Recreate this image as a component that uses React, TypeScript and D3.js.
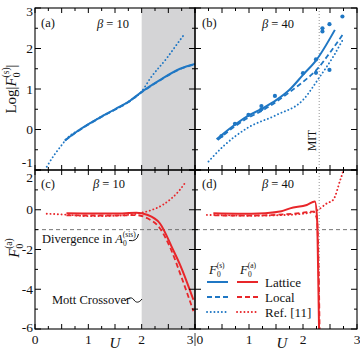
import React from "react";
import * as d3 from "d3";

// ---------- data ----------
// Panel (a) beta=10, Log|F0(s)|
const aLatticeU = [0.56, 0.84, 1.22, 1.5, 1.78, 2.0, 2.34, 2.72, 3.0];
const aLattice = [-0.27, 0.0, 0.3, 0.5, 0.71, 0.93, 1.22, 1.5, 1.62];
const aLocalU = [0.56, 0.84, 1.22, 1.5, 1.78, 2.0, 2.34, 2.72, 3.0];
const aLocal = [-0.27, -0.01, 0.29, 0.49, 0.7, 0.92, 1.21, 1.49, 1.61];
const aRefU = [0.22, 0.35, 0.48, 0.6, 0.84, 1.22, 1.78, 2.0, 2.16, 2.47, 2.72, 2.8];
const aRef = [-0.92, -0.65, -0.42, -0.22, 0.0, 0.3, 0.71, 0.94, 1.26, 1.76, 2.21, 2.35];
// Panel (b) beta=40
const bLatticeU = [0.4, 0.7, 0.96, 1.25, 1.51, 1.75, 2.0, 2.25, 2.59];
const bLattice = [-0.24, 0.08, 0.32, 0.52, 0.73, 0.98, 1.35, 1.72, 2.46];
const bLocalU = [0.42, 0.7, 0.96, 1.25, 1.5, 1.75, 2.04, 2.25, 2.5, 2.75];
const bLocal = [-0.26, 0.04, 0.27, 0.47, 0.68, 0.92, 1.22, 1.47, 1.9, 2.37];
const bRefU = [0.25, 0.52, 0.96, 1.51, 2.0, 2.31, 2.56, 2.75];
const bRef = [-0.79, -0.42, 0.03, 0.36, 0.73, 1.3, 1.8, 2.25];
const bMarkU = [0.49, 0.74, 0.99, 1.23, 1.23, 1.48, 2.0, 2.24, 2.24, 2.36, 2.36, 2.49, 2.49, 2.73];
const bMark = [-0.16, 0.14, 0.36, 0.58, 0.5, 0.83, 1.39, 1.73, 1.4, 2.5, 2.42, 2.6, 1.47, 2.79];
// Panel (c) beta=10, F0(a)
const cLatticeU = [0.59, 1.0, 1.5, 1.9, 2.1, 2.34, 2.59, 2.72, 2.97];
const cLattice = [-0.18, -0.19, -0.19, -0.15, -0.25, -0.68, -2.02, -2.77, -4.53];
const cLocalU = [0.59, 1.0, 1.5, 1.9, 2.1, 2.34, 2.55, 2.72, 2.97];
const cLocal = [-0.28, -0.29, -0.29, -0.27, -0.42, -0.93, -2.0, -3.2, -5.1];
const cRefU = [0.22, 0.6, 1.0, 1.5, 2.0, 2.2, 2.4, 2.55, 2.7, 2.8];
const cRef = [-0.2, -0.25, -0.32, -0.3, -0.15, 0.0, 0.25, 0.55, 0.95, 1.3];
// Panel (d) beta=40
const dLatticeU = [0.34, 0.8, 1.3, 1.6, 1.76, 2.07, 2.22, 2.26, 2.28, 2.3];
const dLattice = [-0.18, -0.2, -0.17, -0.08, 0.07, 0.24, 0.41, -0.4, -3.0, -6.5];
const dLocalU = [0.36, 0.8, 1.3, 1.7, 2.0, 2.19, 2.26, 2.29, 2.31];
const dLocal = [-0.28, -0.3, -0.28, -0.22, -0.15, -0.09, -0.5, -3.0, -6.5];
const dRefU = [0.22, 0.6, 1.0, 1.5, 2.0, 2.28, 2.44, 2.56, 2.69, 2.73, 2.78];
const dRef = [-0.26, -0.28, -0.3, -0.28, -0.2, 0.0, 0.32, 0.5, 1.5, 1.83, 2.4];

const xTickLabels = ["0", "1", "2", "3"];
const topYTicks = ["3", "2", "1", "0", "-1"];
const botYTicks = ["2", "0", "-2", "-4", "-6"];
const legendRows = ["Lattice", "Local", "Ref. [11]"];

const BLUE = "#1f77c4";
const RED = "#e8262a";
const FONT = "'Liberation Serif', 'Times New Roman', Tinos, 'DejaVu Serif', serif";

// ---------- layout ----------
const L = 35, M = 195, R = 357, T = 8, MY = 170, B = 329;

const xl = d3.scaleLinear().domain([0, 3]).range([L, M]);
const xr = d3.scaleLinear().domain([0, 3]).range([M, R]);
const yTop = d3.scaleLinear().domain([-1, 3]).range([MY, T]);
const yBot = d3.scaleLinear().domain([-6, 2]).range([B, MY]);

const styles: Record<string, { dash?: string; w: number; cap: string }> = {
  solid: { w: 2, cap: "butt" },
  dashed: { dash: "5 3", w: 1.8, cap: "butt" },
  dotted: { dash: "0.1 3.6", w: 1.9, cap: "round" },
};

function Curve({ us, vs, x, y, color, kind, clip }: any) {
  const pts: [number, number][] = us.map((u: number, i: number) => [u, vs[i]]);
  const line = d3
    .line<[number, number]>()
    .x((d) => x(d[0]))
    .y((d) => y(d[1]))
    .curve(d3.curveMonotoneX);
  const s = styles[kind];
  return (
    <path
      d={line(pts) || ""}
      fill="none"
      stroke={color}
      strokeWidth={s.w}
      strokeDasharray={s.dash}
      strokeLinecap={s.cap as any}
      clipPath={`url(#${clip})`}
    />
  );
}

function Ticks({ x, y, x0, x1, y0, y1, yStep, yMajor }: any) {
  const els: any[] = [];
  d3.range(0, 3.001, 0.25).forEach((u, i) => {
    const px = x(u);
    const len = Math.abs(u * 2 - Math.round(u * 2)) < 1e-6 ? 5 : 3;
    els.push(<line key={"xb" + i} x1={px} x2={px} y1={y1} y2={y1 - len} stroke="#000" strokeWidth={1} />);
    els.push(<line key={"xt" + i} x1={px} x2={px} y1={y0} y2={y0 + len} stroke="#000" strokeWidth={1} />);
  });
  const [d0, d1] = y.domain();
  d3.range(d0, d1 + 0.001, yStep).forEach((v: number, i: number) => {
    const py = y(v);
    const len = Math.abs(v / yMajor - Math.round(v / yMajor)) < 1e-6 ? 6 : 3;
    els.push(<line key={"yl" + i} x1={x0} x2={x0 + len} y1={py} y2={py} stroke="#000" strokeWidth={1} />);
    els.push(<line key={"yr" + i} x1={x1} x2={x1 - len} y1={py} y2={py} stroke="#000" strokeWidth={1} />);
  });
  return <g>{els}</g>;
}

export default function App() {
  const dot = (us: number[], vs: number[], x: any, y: any, r: number, clip: string) =>
    us.map((u, i) => <circle key={i} cx={x(u)} cy={y(vs[i])} r={r} fill={BLUE} clipPath={`url(#${clip})`} />);

  const topOffset = (t: string) => (t === "-1" ? -7.5 : t === "3" ? 3 : 0);
  const botOffset = (t: string) => (t === "2" ? 7.5 : t === "-6" ? -2 : 0);

  return (
    <svg
      width={360}
      height={352}
      style={{ position: "absolute", left: 0, top: 0, background: "#fff", fontFamily: FONT }}
    >
      <defs>
        <clipPath id="ca"><rect x={L} y={T} width={M - L} height={MY - T} /></clipPath>
        <clipPath id="cb"><rect x={M} y={T} width={R - M} height={MY - T} /></clipPath>
        <clipPath id="cc"><rect x={L} y={MY} width={M - L} height={B - MY} /></clipPath>
        <clipPath id="cd"><rect x={M} y={MY} width={R - M} height={B - MY} /></clipPath>
      </defs>
      <rect x={0} y={0} width={360} height={352} fill="#fff" />
      <rect x={xl(2)} y={T} width={xl(3) - xl(2)} height={B - T} fill="#d4d4d6" />

      <line x1={xr(2.3)} x2={xr(2.3)} y1={T} y2={B} stroke="#888" strokeWidth={0.9} strokeDasharray="1 2" />
      <line x1={L} x2={R} y1={yBot(-1)} y2={yBot(-1)} stroke="#666" strokeWidth={0.9} strokeDasharray="4 3" />

      <Curve us={aRefU} vs={aRef} x={xl} y={yTop} color={BLUE} kind="dotted" clip="ca" />
      <Curve us={aLocalU} vs={aLocal} x={xl} y={yTop} color={BLUE} kind="dashed" clip="ca" />
      <Curve us={aLatticeU} vs={aLattice} x={xl} y={yTop} color={BLUE} kind="solid" clip="ca" />
      <Curve us={bRefU} vs={bRef} x={xr} y={yTop} color={BLUE} kind="dotted" clip="cb" />
      <Curve us={bLocalU} vs={bLocal} x={xr} y={yTop} color={BLUE} kind="dashed" clip="cb" />
      <Curve us={bLatticeU} vs={bLattice} x={xr} y={yTop} color={BLUE} kind="solid" clip="cb" />
      {dot(bMarkU, bMark, xr, yTop, 2.1, "cb")}
      <Curve us={cRefU} vs={cRef} x={xl} y={yBot} color={RED} kind="dotted" clip="cc" />
      <Curve us={cLocalU} vs={cLocal} x={xl} y={yBot} color={RED} kind="dashed" clip="cc" />
      <Curve us={cLatticeU} vs={cLattice} x={xl} y={yBot} color={RED} kind="solid" clip="cc" />
      <Curve us={dRefU} vs={dRef} x={xr} y={yBot} color={RED} kind="dotted" clip="cd" />
      <Curve us={dLocalU} vs={dLocal} x={xr} y={yBot} color={RED} kind="dashed" clip="cd" />
      <Curve us={dLatticeU} vs={dLattice} x={xr} y={yBot} color={RED} kind="solid" clip="cd" />

      {[
        [L, T, M, MY], [M, T, R, MY], [L, MY, M, B], [M, MY, R, B],
      ].map((r, i) => (
        <rect key={i} x={r[0]} y={r[1]} width={r[2] - r[0]} height={r[3] - r[1]} fill="none" stroke="#000" strokeWidth={1.1} />
      ))}
      <Ticks x={xl} y={yTop} x0={L} x1={M} y0={T} y1={MY} yStep={0.5} yMajor={1} />
      <Ticks x={xr} y={yTop} x0={M} x1={R} y0={T} y1={MY} yStep={0.5} yMajor={1} />
      <Ticks x={xl} y={yBot} x0={L} x1={M} y0={MY} y1={B} yStep={1} yMajor={2} />
      <Ticks x={xr} y={yBot} x0={M} x1={R} y0={MY} y1={B} yStep={1} yMajor={2} />

      <g fontSize={13.5} fill="#111">
        {topYTicks.map((t) => (
          <text key={"ty" + t} x={L - 2} y={yTop(+t) + 4.5 + topOffset(t)} textAnchor="end">{t}</text>
        ))}
        {botYTicks.map((t) => (
          <text key={"by" + t} x={L - 2} y={yBot(+t) + 4.5 + botOffset(t)} textAnchor="end">{t}</text>
        ))}
        {xTickLabels.slice(0, 3).map((t) => (
          <text key={"xl" + t} x={xl(+t)} y={344} textAnchor="middle">{t}</text>
        ))}
        <text x={M - 1.5} y={344} textAnchor="end">3</text>
        <line x1={M} x2={M} y1={333} y2={346} stroke="#111" strokeWidth={0.8} />
        <text x={M + 1.5} y={344} textAnchor="start">0</text>
        {xTickLabels.slice(1).map((t) => (
          <text key={"xr" + t} x={xr(+t)} y={344} textAnchor="middle">{t}</text>
        ))}
        <text x={115} y={348} fontStyle="italic" fontSize={15} textAnchor="middle">U</text>
        <text x={282} y={348} fontStyle="italic" fontSize={15} textAnchor="middle">U</text>
      </g>

      <text transform="translate(16,89) rotate(-90)" fontSize={15} textAnchor="middle" fill="#111">
        <tspan>Log|</tspan>
        <tspan fontStyle="italic">F</tspan>
        <tspan fontSize={9.5} dy={4}>0</tspan>
        <tspan fontSize={9.5} dx={-5} dy={-11}>(s)</tspan>
        <tspan dy={7}>|</tspan>
      </text>
      <text transform="translate(19,248) rotate(-90)" fontSize={15} textAnchor="middle" fill="#111">
        <tspan fontStyle="italic">F</tspan>
        <tspan fontSize={9.5} dy={4}>0</tspan>
        <tspan fontSize={9.5} dx={-5} dy={-11}>(a)</tspan>
      </text>

      <g fontSize={12.5} fill="#111">
        <text x={41} y={27}>(a)</text>
        <text x={97} y={28}><tspan fontStyle="italic">β</tspan> = 10</text>
        <text x={202} y={27}>(b)</text>
        <text x={262} y={28}><tspan fontStyle="italic">β</tspan> = 40</text>
        <text x={41} y={188}>(c)</text>
        <text x={93} y={188}><tspan fontStyle="italic">β</tspan> = 10</text>
        <text x={202} y={188}>(d)</text>
        <text x={262} y={188}><tspan fontStyle="italic">β</tspan> = 40</text>
        <text transform={`translate(${xr(2.3) - 3},151) rotate(-90)`} fontSize={11.5}>MIT</text>
      </g>

      <g fontSize={12.5} fill="#111">
        <text x={42} y={243}>
          Divergence in <tspan fontStyle="italic">A</tspan>
          <tspan fontSize={7.5} dy={3}>0</tspan>
          <tspan fontSize={7.5} dx={-4} dy={-9}>(sis)</tspan>
        </text>
        <path d="M129,240.5 Q137,242 138.5,234" fill="none" stroke="#111" strokeWidth={1} />
        <text x={52} y={304}>Mott Crossover</text>
        <path d="M125,301 C129,297 132,297 134,300 C136,303 139,303 142,299" fill="none" stroke="#111" strokeWidth={1} />
      </g>

      <g fontSize={13} fill="#111">
        <text x={209} y={274}>
          <tspan fontStyle="italic">F</tspan>
          <tspan fontSize={7.5} dy={3}>0</tspan>
          <tspan fontSize={7.5} dx={-4} dy={-9}>(s)</tspan>
        </text>
        <text x={240} y={274}>
          <tspan fontStyle="italic">F</tspan>
          <tspan fontSize={7.5} dy={3}>0</tspan>
          <tspan fontSize={7.5} dx={-4} dy={-9}>(a)</tspan>
        </text>
        {legendRows.map((lab, i) => {
          const yy = 282 + i * 15;
          const kind = ["solid", "dashed", "dotted"][i];
          const s = styles[kind];
          return (
            <g key={lab}>
              <line x1={207} x2={228} y1={yy} y2={yy} stroke={BLUE} strokeWidth={s.w} strokeDasharray={s.dash} strokeLinecap={s.cap as any} />
              <line x1={237} x2={258} y1={yy} y2={yy} stroke={RED} strokeWidth={s.w} strokeDasharray={s.dash} strokeLinecap={s.cap as any} />
              <text x={265} y={yy + 4.5}>{lab}</text>
            </g>
          );
        })}
      </g>
    </svg>
  );
}
